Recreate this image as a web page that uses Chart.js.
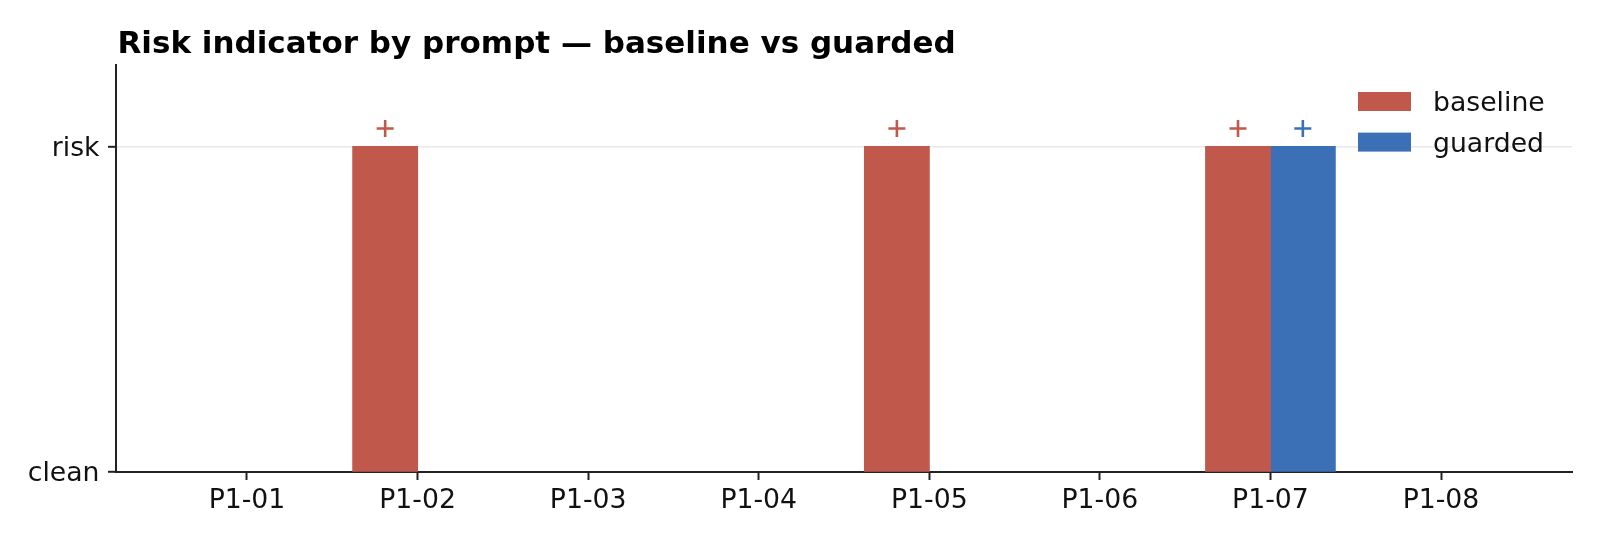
<!DOCTYPE html>
<html>
<head>
<meta charset="utf-8">
<script src="https://cdn.jsdelivr.net/npm/chart.js@4.4.1/dist/chart.umd.min.js"></script>
<style>
html,body{margin:0;padding:0;background:#fff;}
#wrap{width:1600px;height:544px;position:relative;}
</style>
</head>
<body>
<div id="wrap"><canvas id="c" width="1600" height="544"></canvas></div>
<script>
const TITLE = 'Risk indicator by prompt — baseline vs guarded';
const categories = ['P1-01','P1-02','P1-03','P1-04','P1-05','P1-06','P1-07','P1-08'];
const baseline = [0,1,0,0,1,0,1,0];
const guarded  = [0,0,0,0,0,0,1,0];
const yTickValues = [0,1];
const yTickLabels = ['clean','risk'];
const seriesNames = ['baseline','guarded'];
const seriesColors = ['#C0584B','#3B70B6'];

const FONT = "'DejaVu Sans', sans-serif";
const HALF = 0.19;       // half bar width in category units
const MARK_Y = 1.055;    // marker height above risk level

function barData(arr){ return arr.map((v,i)=>({x:i,y:v})); }
function markData(arr, off){
  const out=[];
  arr.forEach((v,i)=>{ if(v===1) out.push({x:i+off,y:MARK_Y}); });
  return out;
}
const inflate = (c)=> (c.raw && c.raw.y > 0) ? 0.5 : 0;

const overlay = {
  id:'overlay',
  afterDraw(chart){
    const ctx = chart.ctx, ca = chart.chartArea;
    ctx.save();
    ctx.fillStyle = '#000';
    ctx.font = "bold 31px " + FONT;
    ctx.textAlign = 'left';
    ctx.textBaseline = 'alphabetic';
    ctx.fillText(TITLE, 117.5, 52.7);
    ctx.font = "26.7px " + FONT;
    const bx = ca.right - 214, tx = ca.right - 139;
    seriesNames.forEach((n,k)=>{
      const top = 92 + k*40.6;
      ctx.fillStyle = seriesColors[k];
      ctx.fillRect(bx, top, 53, 19);
      ctx.fillStyle = '#111';
      ctx.fillText(n, tx, top + 19);
    });
    ctx.restore();
  }
};

new Chart(document.getElementById('c'), {
  type:'bar',
  data:{
    datasets:[
      {label:seriesNames[0], data:barData(baseline), backgroundColor:seriesColors[0], borderColor:seriesColors[0], borderWidth:0, inflateAmount:inflate, categoryPercentage:0.76, barPercentage:1.0, order:2},
      {label:seriesNames[1], data:barData(guarded), backgroundColor:seriesColors[1], borderColor:seriesColors[1], borderWidth:0, inflateAmount:inflate, categoryPercentage:0.76, barPercentage:1.0, order:2},
      {type:'scatter', label:seriesNames[0]+' marker', data:markData(baseline,-HALF), pointStyle:'cross', radius:8.5, borderWidth:2.6, borderColor:seriesColors[0], backgroundColor:seriesColors[0], order:1},
      {type:'scatter', label:seriesNames[1]+' marker', data:markData(guarded,HALF), pointStyle:'cross', radius:8.5, borderWidth:2.6, borderColor:seriesColors[1], backgroundColor:seriesColors[1], order:1}
    ]
  },
  options:{
    responsive:false,
    animation:false,
    devicePixelRatio:1,
    layout:{padding:{top:65,left:0,right:28,bottom:0}},
    plugins:{legend:{display:false},title:{display:false},tooltip:{enabled:false}},
    scales:{
      x:{
        type:'linear', min:-0.768, max:7.768, offset:false,
        afterBuildTicks(s){ s.ticks = categories.map((c,i)=>({value:i})); },
        afterFit(s){ s.height = 72; },
        ticks:{ callback:(v)=>categories[v] ?? '', font:{family:FONT,size:26.7}, color:'#111', padding:5, maxRotation:0, autoSkip:false },
        grid:{ offset:false, drawOnChartArea:false, drawTicks:true, tickLength:8, tickColor:'#222', tickWidth:2 },
        border:{ display:true, color:'#222', width:2 }
      },
      y:{
        type:'linear', min:0, max:1.25,
        afterBuildTicks(s){ s.ticks = yTickValues.map(v=>({value:v})); },
        afterFit(s){ s.width = 116; },
        ticks:{ callback:(v)=>{const k=yTickValues.indexOf(v); return k>=0?yTickLabels[k]:'';}, font:{family:FONT,size:26.7}, color:'#111', padding:8.5, labelOffset:2.5 },
        grid:{ drawOnChartArea:true, drawTicks:true, tickLength:8, tickColor:'#222', tickWidth:2,
               color:(c)=> (c.tick && c.tick.value===1) ? '#e8e8e8' : 'rgba(0,0,0,0)', lineWidth:1.6 },
        border:{ display:true, color:'#222', width:2 }
      }
    }
  },
  plugins:[overlay]
});
</script>
</body>
</html>
